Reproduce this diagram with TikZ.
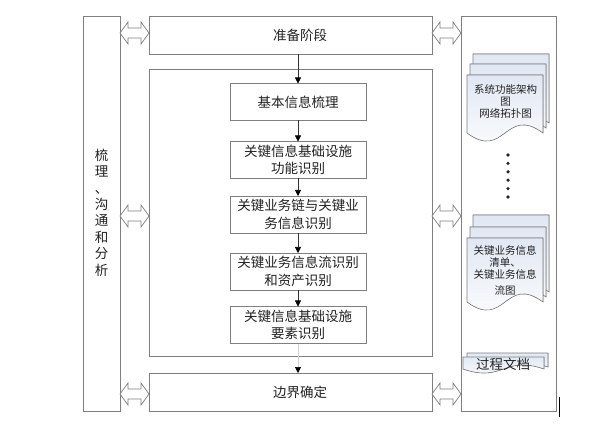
\documentclass[tikz,border=0pt]{standalone}
\usepackage{fontspec}
\setmainfont{Noto Sans CJK SC}
\usetikzlibrary{arrows.meta}
\definecolor{linegray}{HTML}{7F7F7F}
\definecolor{lightline}{HTML}{D0D0D0}
\definecolor{txt}{HTML}{222222}
\definecolor{docblue}{HTML}{E1E8F3}
\newcommand\docsheet[5]{% x1, ytop, width, height, amplitude
  \filldraw[docfill] (#1,#2) -- (#1+#3,#2) -- (#1+#3,#2+#4)
    .. controls (#1+0.5*#3,#2+#4-#5) and (#1+0.5*#3,#2+#4+#5) .. (#1,#2+#4) -- cycle;}
\begin{document}
\begin{tikzpicture}[x=1bp,y=-1bp,
  frame/.style={draw=linegray,line width=0.8bp,inner sep=0pt,outer sep=0pt,fill=white},
  box/.style={frame,text=txt,font=\fontsize{13.5bp}{17.5bp}\selectfont,align=center},
  inner/.style={box,minimum width=136bp,minimum height=37bp},
  wide/.style={box,minimum width=283bp,minimum height=38bp},
  conn/.style={draw=black!80,line width=0.7bp,-{Triangle[width=6bp,length=6bp,color=black]}},
  faintconn/.style={draw=lightline,line width=0.7bp,-{Triangle[width=6bp,length=6bp,color=black]}},
  docfill/.style={draw=linegray,line width=0.6bp,top color=docblue,bottom color=white},
  doctext/.style={text=txt,font=\fontsize{10.5bp}{12bp}\selectfont,align=center,inner sep=0pt},
  blockarrow/.style={draw=linegray,line width=0.7bp,fill=white},
  dblarr/.pic={\path[blockarrow] (0,0) -- (8,-11) -- (8,-5) -- (21,-5) -- (21,-11) -- (29,0)
     -- (21,11) -- (21,5) -- (8,5) -- (8,11) -- cycle;}
]
\useasboundingbox (0,0) rectangle (616,434);

% outer columns
\node[frame,minimum width=37bp,minimum height=395bp] (left) at (101.5,213.5) {};
\node[frame,minimum width=95bp,minimum height=395bp] (right) at (508.5,213.5) {};
\node[text=txt,font=\fontsize{13.5bp}{16.4bp}\selectfont,align=center,inner sep=0pt]
  (lefttext) at (101.5,212.5) {梳\\理\\、\\沟\\通\\和\\分\\析};

% central column
\node[wide] (prep) at (290.5,35) {\hspace*{19bp}准备阶段};
\node[frame,minimum width=283bp,minimum height=287bp] (mid) at (290.5,212.5) {};
\node[wide] (bound) at (290.5,392) {\hspace*{19bp}边界确定};

\node[inner] (b1) at (298,102) {基本信息梳理};
\node[inner] (b2) at (298,160) {关键信息基础设施\\功能识别};
\node[inner] (b3) at (298,214.5) {关键业务链与关键业\\务信息识别};
\node[inner] (b4) at (298,271.5) {关键业务信息流识别\\和资产识别};
\node[inner] (b5) at (298,325) {关键信息基础设施\\要素识别};

\draw[conn] (prep.south -| b1.north) -- (b1.north);
\draw[conn] (b1) -- (b2);
\draw[conn] (b2) -- (b3);
\draw[conn] (b3) -- (b4);
\draw[conn] (b4) -- (b5);
\draw[faintconn] (b5) -- (bound.north -| b5.south);

% block double arrows
\pic at (120,33) {dblarr};
\pic at (120,216) {dblarr};
\pic at (120,394) {dblarr};
\pic at (432,33) {dblarr};
\pic at (432,216) {dblarr};
\pic at (432,394) {dblarr};

% documents in right column
\docsheet{473}{54}{76}{69}{28}
\docsheet{470}{64}{76}{64}{28}
\docsheet{467}{75}{76}{58}{28}
\node[doctext] (doc1) at (505.5,101) {系统功能架构\\图\\网络拓扑图};

\foreach \yy in {155,163.4,171.8,180.2,188.6,197}
  \fill[black!85] (508,\yy) circle (1.8bp);

\docsheet{473}{215}{76}{77}{28}
\docsheet{470}{227}{76}{70}{28}
\docsheet{467}{238}{76}{64}{28}
\node[doctext] (doc2) at (505,270) {关键业务信息\\清单、\\关键业务信息\\[4bp]流图};

\docsheet{467}{353}{81}{14}{14}
\docsheet{463}{357}{81}{12}{14}
\node[text=txt,font=\fontsize{13.5bp}{16bp}\selectfont,inner sep=0pt] (doc3) at (503,364) {过程文档};

\draw[black,line width=1bp] (559,397) -- (559,417);
\end{tikzpicture}
\end{document}
